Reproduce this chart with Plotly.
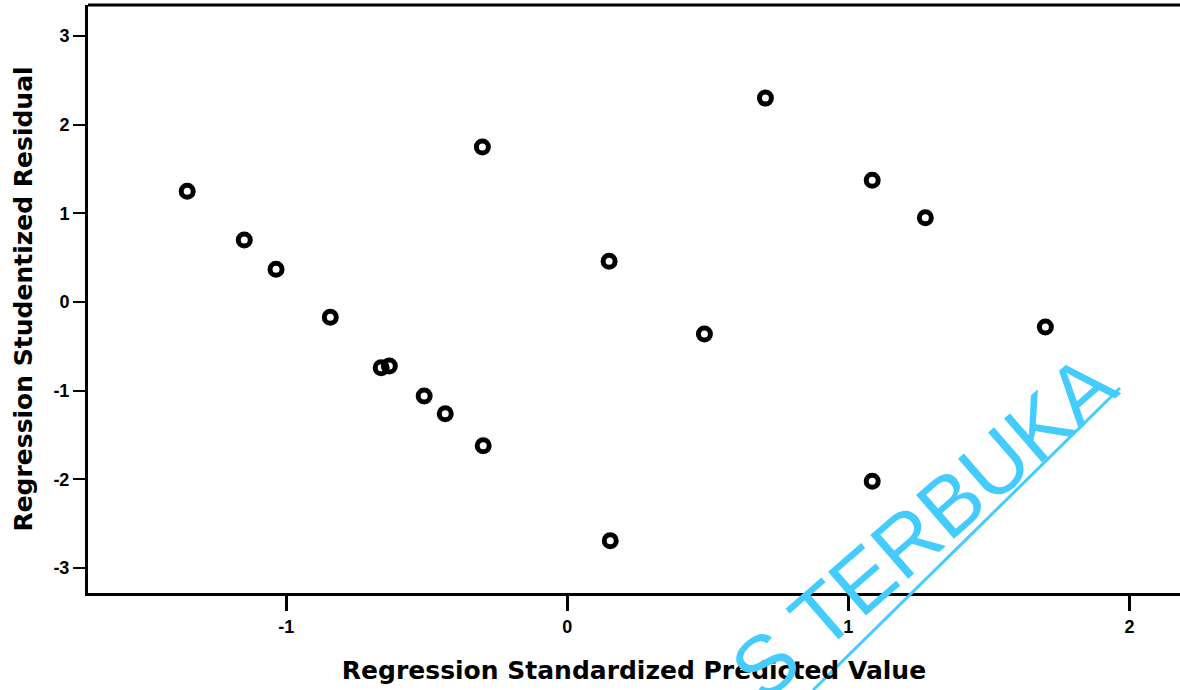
import plotly.graph_objects as go

# Data
pred_std = [-1.352, -1.149, -1.036, -0.843, -0.662, -0.633, -0.509, -0.434, -0.299,
            -0.302, 0.149, 0.153, 0.488, 0.705, 1.085, 1.085, 1.274, 1.701]
resid_stud = [1.25, 0.70, 0.37, -0.17, -0.74, -0.72, -1.06, -1.26, -1.62,
              1.75, 0.46, -2.69, -0.36, 2.30, 1.375, -2.02, 0.95, -0.28]

x_ticks = [-1, 0, 1, 2]
y_ticks = [-3, -2, -1, 0, 1, 2, 3]

fig = go.Figure()
fig.add_trace(go.Scatter(
    x=pred_std, y=resid_stud, mode="markers",
    marker=dict(symbol="circle-open", size=12, color="black",
                line=dict(width=5, color="black")),
    showlegend=False, hoverinfo="skip"))

font_tick = "Liberation Sans, Arial, sans-serif"
font_title = "DejaVu Sans, Arial, sans-serif"

fig.update_layout(
    width=1180, height=690,
    margin=dict(l=88, r=0, t=5, b=97),
    paper_bgcolor="white", plot_bgcolor="white",
    font=dict(family=font_tick, color="black"),
    xaxis=dict(range=[-1.705, 2.18], tickvals=x_ticks, ticktext=[str(v) for v in x_ticks],
               ticks="outside", ticklen=15, tickwidth=3, tickcolor="black",
               showline=True, linecolor="black", linewidth=3,
               showgrid=False, zeroline=False, automargin=False,
               tickfont=dict(size=18, family=font_tick, color="black", weight="bold"),
               title=dict(text="<b>Regression Standardized Predicted Value</b>",
                          font=dict(size=25, family=font_title, color="black"),
                          standoff=26)),
    yaxis=dict(range=[-3.28, 3.35], tickvals=y_ticks, ticktext=[str(v) for v in y_ticks],
               ticks="outside", ticklen=12, tickwidth=2, tickcolor="black",
               showline=True, linecolor="black", linewidth=3,
               showgrid=False, zeroline=False, automargin=False,
               tickfont=dict(size=18, family=font_tick, color="black", weight="bold"),
               title=dict(text="<b>Regression Studentized Residual</b>",
                          font=dict(size=25, family=font_title, color="black"),
                          standoff=14)),
)

# top border line
fig.add_shape(type="line", xref="paper", yref="paper", x0=0, x1=1, y0=1, y1=1,
              line=dict(color="black", width=3))

# watermark
fig.add_annotation(text="S TERBUKA", xref="paper", yref="paper",
                   x=0.765, y=0.112, xanchor="center", yanchor="middle",
                   textangle=-41, showarrow=False,
                   font=dict(size=84, family=font_tick, color="#44CCFF"))
fig.add_shape(type="line", xref="paper", yref="paper",
              x0=0.664, y0=-0.165, x1=0.945, y1=0.3486,
              line=dict(color="#44CCFF", width=3))

fig.write_html("out.html", config={"displayModeBar": False},
               post_script="document.body.style.margin='0';")
